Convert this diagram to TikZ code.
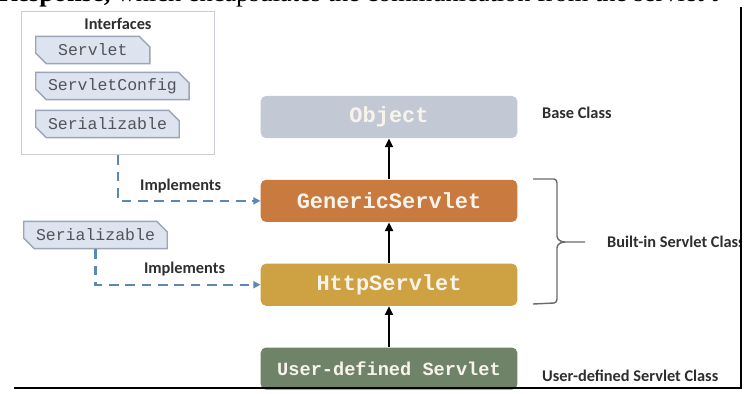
\documentclass[tikz,border=0pt]{standalone}
\usepackage{fontspec}
\setmainfont{Carlito}
\newfontfamily\codefont{Liberation Mono}
\newfontfamily\pagefont{Liberation Serif}
\usetikzlibrary{arrows.meta,positioning,shapes.misc}
\definecolor{ObjGrey}{HTML}{C3C8D5}
\definecolor{GenOrange}{HTML}{C97A3E}
\definecolor{HttpGold}{HTML}{CEA142}
\definecolor{UserGreen}{HTML}{6F8369}
\definecolor{BoxInk}{HTML}{F8F4EC}
\definecolor{TagFill}{HTML}{DDE4EF}
\definecolor{TagRule}{HTML}{9AA5B7}
\definecolor{TagInk}{HTML}{50545A}
\definecolor{ImplBlue}{HTML}{5C87B9}
\definecolor{PanelRule}{HTML}{C9CDD3}
\definecolor{LabelInk}{HTML}{2E2E2E}
\definecolor{BraceInk}{HTML}{6A6A6A}

\begin{document}
\begin{tikzpicture}[x=0.02cm, y=-0.02cm, node distance=0.82cm,
  cls/.style={rounded corners=3pt, minimum width=146pt, minimum height=24pt,
              inner sep=0pt, text=BoxInk,
              font=\codefont\bfseries\fontsize{12.5}{14}\selectfont},
  tag/.style={chamfered rectangle, chamfered rectangle corners={north east,south west},
              chamfered rectangle xsep=3pt, chamfered rectangle ysep=3pt,
              fill=TagFill, draw=TagRule, line width=0.8pt, inner xsep=4pt,
              inner ysep=0pt, minimum height=15.5pt, text=TagInk,
              font=\codefont\fontsize{9.4}{11}\selectfont},
  panel/.style={draw=PanelRule, fill=white, line width=0.8pt,
                minimum width=110pt, minimum height=81.6pt, inner sep=0pt},
  lbl/.style={font=\bfseries\fontsize{9.3}{11}\selectfont, text=LabelInk, inner sep=1pt},
  inherit/.style={-{Triangle[length=5pt,width=4.5pt]}, line width=1.2pt, black},
  impl/.style={-{Triangle[length=4pt,width=4pt]}, draw=ImplBlue, line width=1.4pt,
               dash pattern=on 5.5pt off 3.8pt},
  brc/.style={draw=BraceInk, line width=0.8pt}]
  \useasboundingbox (0,0) rectangle (749,393);
  \node[anchor=base west, inner sep=0pt, font=\pagefont\fontsize{15}{17}\selectfont] (pagetext) at (-2,1)
    {\textbf{Response,} which encapsulates the communication from the servlet t};

  \node[panel] (ifaces) at (118,83) {};
  \node[lbl] (ifacetitle) at (118,24) {Interfaces};
  \node[tag, minimum width=65pt, anchor=west] (servlet) at (35,50) {Servlet};
  \node[tag, anchor=west] (config) at (35,86) {ServletConfig};
  \node[tag, anchor=west] (serial) at (35,124) {Serializable};
  \node[tag, anchor=west] (serialb) at (23,235) {Serializable};

  \node[cls, fill=ObjGrey] (object) at (389,117) {Object};
  \node[cls, fill=GenOrange, below=of object] (generic) {GenericServlet};
  \node[cls, fill=HttpGold, below=of generic] (http) {HttpServlet};
  \node[cls, fill=UserGreen, below=of http, font=\codefont\bfseries\fontsize{10.6}{12}\selectfont] (user) {User-defined Servlet};

  \draw[inherit] (generic) -- (object);
  \draw[inherit] (http) -- (generic);
  \draw[inherit] (user) -- (http);

  \draw[impl] (ifaces.south) |- node[lbl, pos=0.72, above=3pt] (implone) {Implements} (generic.west);
  \draw[impl] (serialb.south) |- node[lbl, pos=0.77, above=3pt] (impltwo) {Implements} (http.west);

  \node[lbl, anchor=west] (base) at (540,113) {Base Class};
  \node[lbl, anchor=west] (builtin) at (605,242) {Built-in Servlet Class};
  \node[lbl, anchor=west] (userlbl) at (540,376) {User-defined Servlet Class};

  \coordinate (bracetip) at (585,242);
  \draw[brc] (533,179) -- (554,179) to[out=0,in=90] (557,183) -- (557,236)
    to[out=-90,in=180] (565,242) -- (bracetip);
  \draw[brc] (565,242) to[out=180,in=90] (557,248) -- (557,299)
    to[out=-90,in=0] (554,303) -- (533,304);

  \fill[white] (742,0) rectangle (749,393);
  \draw[line width=0.9pt] (14,388) -- (741,388) -- (741,7);
\end{tikzpicture}
\end{document}
